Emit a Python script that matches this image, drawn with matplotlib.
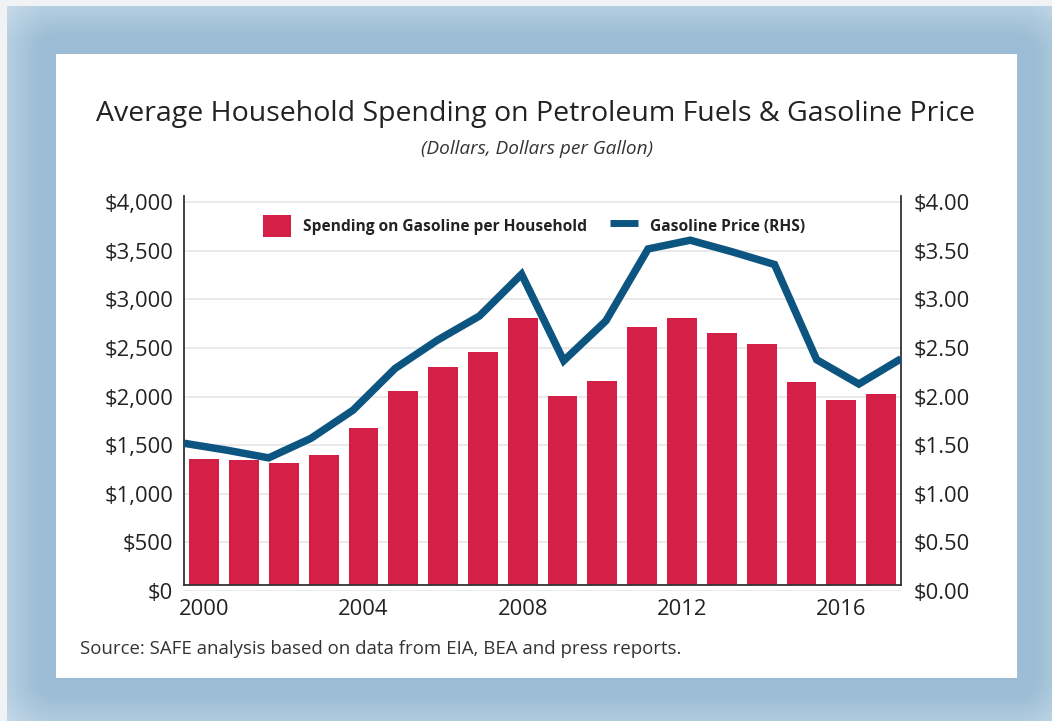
import numpy as np
import matplotlib
matplotlib.use("Agg")
import matplotlib.pyplot as plt
from matplotlib.patches import Rectangle, Patch
from matplotlib.lines import Line2D
from matplotlib.ticker import FuncFormatter

# ---------------- data ----------------
years = list(range(2000, 2018))
spending = [1360, 1349, 1315, 1397, 1678, 2062, 2308, 2459, 2808,
            2007, 2158, 2712, 2808, 2658, 2545, 2147, 1969, 2027]
gas_price = [1.52, 1.45, 1.37, 1.57, 1.86, 2.29, 2.58, 2.83, 3.26,
             2.37, 2.78, 3.52, 3.61, 3.49, 3.36, 2.38, 2.13, 2.39]
left_ticks = [0, 500, 1000, 1500, 2000, 2500, 3000, 3500, 4000]
right_ticks = [0.0, 0.5, 1.0, 1.5, 2.0, 2.5, 3.0, 3.5, 4.0]
xtick_years = [2000, 2004, 2008, 2012, 2016]

title = "Average Household Spending on Petroleum Fuels & Gasoline Price"
subtitle = "(Dollars, Dollars per Gallon)"
source = "Source: SAFE analysis based on data from EIA, BEA and press reports."
bar_label = "Spending on Gasoline per Household"
line_label = "Gasoline Price (RHS)"

# ---------------- style ----------------
W, H = 1052, 721
BAR_C = "#d41f47"
LINE_C = "#0c5580"
TXT_C = "#222222"
FONT = ["Open Sans", "DejaVu Sans"]
plt.rcParams["font.family"] = FONT

fig = plt.figure(figsize=(W / 100, H / 100), dpi=100)
fig.patch.set_facecolor("#f1f2f4")

# decorative blurred frame + white panel
yy, xx = np.mgrid[0:H, 0:W] + 0.5
px0, px1, py0, py1 = 56, 1017, 54, 678
dx = np.maximum(np.maximum(px0 - xx, xx - px1), 0)
dy = np.maximum(np.maximum(py0 - yy, yy - py1), 0)
d = np.hypot(dx, dy)
t = np.clip((d - 18) / 50, 0, 1)
dark = np.array([0x9c, 0xbd, 0xd5]) / 255
light = np.array([0xc6, 0xda, 0xe9]) / 255
img = dark * (1 - t[..., None]) + light * t[..., None]
outer = ~((xx >= 7) & (yy >= 6))
img[outer] = np.array([0xf1, 0xf2, 0xf4]) / 255
panel = (xx >= px0) & (xx < px1) & (yy >= py0) & (yy < py1)
img[panel] = 1.0
bg = fig.add_axes([0, 0, 1, 1], zorder=-10)
bg.imshow(img, aspect="auto", extent=(0, W, H, 0), interpolation="bilinear")
bg.axis("off")

# ---------------- main axes ----------------
ax_rect = [184.3 / W, (H - 591) / H, (901 - 184.3) / W, (591 - 196) / H]
ax = fig.add_axes(ax_rect)
ax.patch.set_visible(False)
bars = ax.bar(years, spending, width=0.75, color=BAR_C, zorder=2)
ax.set_xlim(years[0] - 0.5, years[-1] + 0.5)
ax.set_ylim(0, 4065)
base = 62  # visual offset of the x-axis line above zero
clip = Rectangle((years[0] - 0.5, base), len(years), 5000, transform=ax.transData)
for b in bars:
    b.set_clip_path(clip)

ax.set_yticks(left_ticks)
ax.yaxis.set_major_formatter(FuncFormatter(lambda v, p: "${:,.0f}".format(v)))
ax.set_xticks(xtick_years)
ax.set_xticklabels([str(y) for y in xtick_years])
ax.tick_params(axis="both", length=0, labelsize=15.8, colors=TXT_C)
ax.tick_params(axis="y", pad=8)
ax.tick_params(axis="x", pad=10)
ax.yaxis.grid(True, color="#e6e6e6", lw=1.2, zorder=0)
ax.set_axisbelow(True)

ax.spines["top"].set_visible(False)
for s in ["left", "right", "bottom"]:
    ax.spines[s].set_color("#333333")
    ax.spines[s].set_linewidth(1.3)
ax.spines["bottom"].set_position(("data", base))
ax.spines["left"].set_bounds(base, 4065)
ax.spines["right"].set_bounds(base, 4065)

# ---------------- line axes ----------------
ax2 = fig.add_axes(ax_rect)
ax2.patch.set_visible(False)
ax2.plot(years, gas_price, color=LINE_C, lw=5.4, solid_joinstyle="miter",
         solid_capstyle="butt", zorder=3)
ax2.set_xlim(years[0], years[-1])
ax2.set_ylim(0, 4.065)
ax2.set_yticks(right_ticks)
ax2.yaxis.set_major_formatter(FuncFormatter(lambda v, p: "${:.2f}".format(v)))
ax2.yaxis.tick_right()
ax2.tick_params(axis="y", length=0, labelsize=15.8, colors=TXT_C, pad=9)
ax2.xaxis.set_visible(False)
for s in ax2.spines.values():
    s.set_visible(False)

# ---------------- legend ----------------
handles = [Patch(facecolor=BAR_C, edgecolor="none", label=bar_label),
           Line2D([], [], color=LINE_C, lw=5, solid_capstyle="butt", label=line_label)]
leg = fig.legend(handles=handles, loc="center", bbox_to_anchor=(534 / W, 1 - 226 / H),
                 ncol=2, frameon=False, prop={"weight": "bold", "size": 11.2},
                 handlelength=1.85, handleheight=1.85, handletextpad=0.75,
                 columnspacing=1.45, labelcolor=TXT_C)

# ---------------- texts ----------------
fig.text(536 / W, 1 - 113.5 / H, title, ha="center", va="center", fontsize=20.5,
         color=TXT_C)
fig.text(537 / W, 1 - 149 / H, subtitle, ha="center", va="center", fontsize=13.7,
         style="italic", color="#333333")
fig.text(80 / W, 1 - 649 / H, source, ha="left", va="center", fontsize=13.4,
         color="#333333")

fig.savefig("out.png", dpi=100)
